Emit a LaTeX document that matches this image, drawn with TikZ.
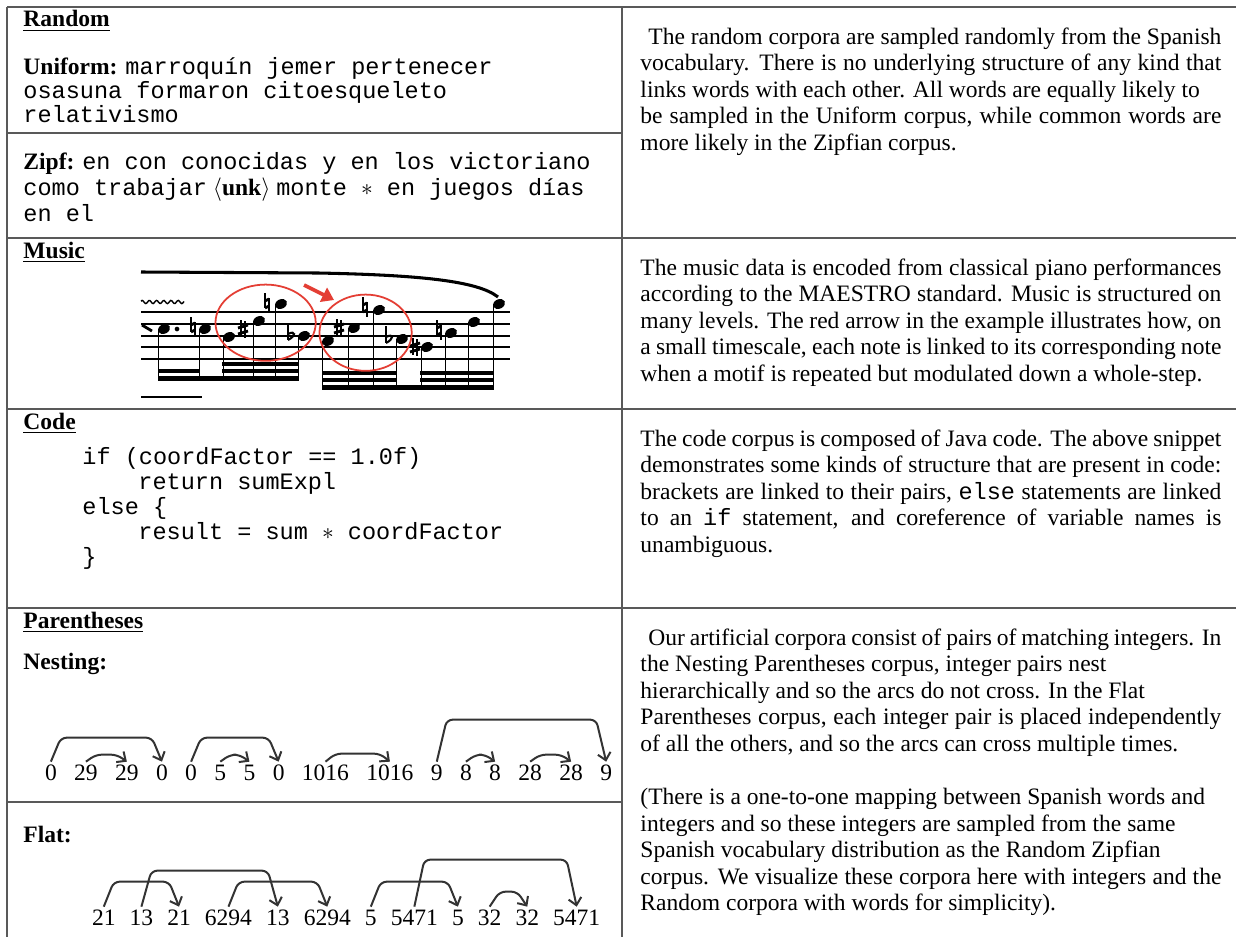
\documentclass[tikz,border=0pt]{standalone}
\usepackage{fontspec}
\setmainfont{Liberation Serif}
\setmonofont{Liberation Mono}
\usetikzlibrary{positioning, arrows.meta, calc}

\definecolor{musred}{RGB}{228,62,52}
\newlength{\colw}\setlength{\colw}{246.9pt}
\newcommand{\justline}[1]{\makebox[\colw][s]{#1}}
% dependency arc: start node, end node, height in px
\newcommand{\deparc}[3]{\draw[deparc] ([yshift=1pt]#1.north) -- ++(10,-#3)
  -- ($([yshift=1pt]#2.north)+(-10,-#3)$) -- ([yshift=1pt]#2.north);}
% accidentals for the music snippet
\newcommand{\drawsharp}[2]{%
  \draw[acc] (#1-2,#2-9) -- (#1-2,#2+8) (#1+2,#2-8) -- (#1+2,#2+9);
  \draw[line width=1.2pt] (#1-5,#2-1) -- (#1+5,#2-4) (#1-5,#2+5) -- (#1+5,#2+2);}
\newcommand{\drawnatural}[2]{%
  \draw[acc] (#1-2,#2-10) -- (#1-2,#2+5) (#1+2,#2-5) -- (#1+2,#2+10);
  \draw[line width=1.2pt] (#1-2,#2-2) -- (#1+2,#2-4) (#1-2,#2+5) -- (#1+2,#2+3);}
\newcommand{\drawflat}[2]{%
  \draw[acc] (#1-3,#2-13) -- (#1-3,#2+4);
  \draw[line width=0.9pt] (#1-3,#2+4) .. controls (#1+5,#2) and (#1+5,#2-6) .. (#1-3,#2-2);}

\begin{document}
\begin{tikzpicture}[x=0.425pt, y=-0.425pt, node distance=7.4pt,
    tabrule/.style={draw=black!65, line width=0.8pt},
    head/.style={anchor=base west, inner sep=0pt},
    cell/.style={anchor=base west, inner sep=0pt},
    desc/.style={anchor=base west, inner sep=0pt},
    num/.style={inner sep=0pt, outer sep=0pt, text height=6.8pt, text depth=0pt},
    deparc/.style={draw=black!80, line width=0.85pt, rounded corners=2.5pt,
                   -{Straight Barb[length=3pt,width=5.5pt]}},
    staffline/.style={line width=0.6pt},
    stem/.style={line width=0.7pt},
    acc/.style={line width=0.6pt},
    circ/.style={draw=musred, line width=0.75pt}
]
\useasboundingbox (0,0) rectangle (1236,937);
\fill[white] (0,0) rectangle (1236,937);

% ---- table rules ----
\draw[tabrule] (7,7) -- (1236,7);
\draw[tabrule] (7,7) -- (7,937);
\draw[tabrule] (622,7) -- (622,937);
\foreach \y in {238,409,608} \draw[tabrule] (7,\y) -- (1236,\y);
\foreach \y in {133,802} \draw[tabrule] (7,\y) -- (622,\y);

% ---- Row 1: Random ----
\node[head] (hrnd) at (23,27) {\underline{\textbf{Random}}};
\node[cell] (uni1) at (23,74)  {\textbf{Uniform:} \texttt{marroquín jemer pertenecer}};
\node[cell] (uni2) at (23,98)  {\texttt{osasuna formaron citoesqueleto}};
\node[cell] (uni3) at (23,122) {\texttt{relativismo}};
\node[cell] (zpf1) at (23,169) {\textbf{Zipf:} \texttt{en con conocidas y en los victoriano}};
\node[cell] (zpf2) at (23,195) {\texttt{como trabajar} $\langle$\textbf{unk}$\rangle$ \texttt{monte $\ast$ en juegos días}};
\node[cell] (zpf3) at (23,221) {\texttt{en el}};

\node[desc] (rd1) at (640,44)    {\justline{\hspace*{3.4pt}The random corpora are sampled randomly from the Spanish}};
\node[desc] (rd2) at (640,70.6)  {\justline{vocabulary. There is no underlying structure of any kind that}};
\node[desc] (rd3) at (640,97.2)  {links words with each other. All words are equally likely to};
\node[desc] (rd4) at (640,123.8) {\justline{be sampled in the Uniform corpus, while common words are}};
\node[desc] (rd5) at (640,150.4) {more likely in the Zipfian corpus.};

% ---- Row 2: Music ----
\node[head] (hmus) at (23,258) {\underline{\textbf{Music}}};
% score snippet
\draw[line width=1.3pt] (141,272) -- (318,273) .. controls (420,275) and (478,281) .. (498,297);
\draw[line width=0.6pt] plot[domain=141:184, samples=40, smooth] (\x,{302+1.6*sin(\x*50)});
\foreach \y in {312,324,336,347,359} \draw[staffline] (141,\y) -- (510,\y);
\draw[line width=1.2pt] (142,325) -- (152,331);
\foreach \x/\y in {164/329,205/329,229/337,259/321,281/304,304/336} {
  \fill[rotate around={25:(\x,\y)}] (\x,\y) ellipse (2.7pt and 2pt);
  \draw[stem] (\x-5.5,\y) -- (\x-5.5,381);
}
\foreach \x/\y in {328/341,354/328,379/310,402/339,427/347,451/333,474/322,499/304} {
  \fill[rotate around={25:(\x,\y)}] (\x,\y) ellipse (2.7pt and 2pt);
  \draw[stem] (\x-5.5,\y) -- (\x-5.5,390);
}
\fill (177,329) circle (1pt);
\fill (158,376) rectangle (299,381);
\fill (158,369) rectangle (200,373);
\fill (222,369) rectangle (299,373);
\fill (222,362) rectangle (299,366);
\fill (322,385) rectangle (494,390);
\fill (322,378) rectangle (396,382);
\fill (420,378) rectangle (494,382);
\fill (322,371) rectangle (396,375);
\fill (420,371) rectangle (494,375);
\draw[line width=0.9pt] (141,397) -- (202,397);
\drawnatural{193}{327}
\drawsharp{243}{329}
\drawnatural{267}{303}
\drawflat{291}{336}
\drawsharp{339}{328}
\drawnatural{365}{307}
\drawflat{389}{339}
\drawsharp{415}{347}
\drawnatural{439}{330}
% red marks
\draw[circ] (265.6,322.7) ellipse (21.3pt and 16.2pt);
\draw[circ] (365.6,332.7) ellipse (19.6pt and 16.2pt);
\draw[musred, line width=1.6pt, -{Triangle[length=5pt,width=6.5pt]}] (304,285) -- (334,300);

\node[desc] (md1) at (640,275)   {\justline{The music data is encoded from classical piano performances}};
\node[desc] (md2) at (640,301.6) {\justline{according to the MAESTRO standard. Music is structured on}};
\node[desc] (md3) at (640,328.2) {\justline{many levels. The red arrow in the example illustrates how, on}};
\node[desc] (md4) at (640,354.8) {\justline{a small timescale, each note is linked to its corresponding note}};
\node[desc] (md5) at (640,381.4) {when a motif is repeated but modulated down a whole-step.};

% ---- Row 3: Code ----
\node[head] (hcod) at (23,429) {\underline{\textbf{Code}}};
\node[cell] (cl1) at (82,464)  {\texttt{if (coordFactor == 1.0f)}};
\node[cell] (cl2) at (138,489) {\texttt{return sumExpl}};
\node[cell] (cl3) at (82,514)  {\texttt{else \{}};
\node[cell] (cl4) at (138,539) {\texttt{result = sum $\ast$ coordFactor}};
\node[cell] (cl5) at (82,564)  {\texttt{\}}};

\node[desc] (cd1) at (640,446)   {\justline{The code corpus is composed of Java code. The above snippet}};
\node[desc] (cd2) at (640,472.6) {\justline{demonstrates some kinds of structure that are present in code:}};
\node[desc] (cd3) at (640,499.2) {\justline{brackets are linked to their pairs, \texttt{else} statements are linked}};
\node[desc] (cd4) at (640,525.8) {\justline{to an \texttt{if} statement, and coreference of variable names is}};
\node[desc] (cd5) at (640,552.4) {unambiguous.};

% ---- Row 4: Parentheses ----
\node[head] (hpar) at (23,628) {\underline{\textbf{Parentheses}}};
\node[cell] (hnest) at (23,669) {\textbf{Nesting:}};
\node[cell] (hflat) at (23,842) {\textbf{Flat:}};

% nesting sequence
\node[num, anchor=base west] (a1) at (45,780) {0};
\node[num, right=of a1]  (a2)  {29};
\node[num, right=of a2]  (a3)  {29};
\node[num, right=of a3]  (a4)  {0};
\node[num, right=of a4]  (a5)  {0};
\node[num, right=of a5]  (a6)  {5};
\node[num, right=of a6]  (a7)  {5};
\node[num, right=of a7]  (a8)  {0};
\node[num, right=of a8]  (a9)  {1016};
\node[num, right=of a9]  (a10) {1016};
\node[num, right=of a10] (a11) {9};
\node[num, right=of a11] (a12) {8};
\node[num, right=of a12] (a13) {8};
\node[num, right=of a13] (a14) {28};
\node[num, right=of a14] (a15) {28};
\node[num, right=of a15] (a16) {9};
\deparc{a1}{a4}{24}
\deparc{a2}{a3}{7}
\deparc{a5}{a8}{24}
\deparc{a6}{a7}{7}
\deparc{a9}{a10}{8}
\deparc{a11}{a16}{42}
\deparc{a12}{a13}{7}
\deparc{a14}{a15}{7}

% flat sequence
\node[num, anchor=base west] (b1) at (92,925) {21};
\node[num, right=6pt of b1]  (b2)  {13};
\node[num, right=6pt of b2]  (b3)  {21};
\node[num, right=6pt of b3]  (b4)  {6294};
\node[num, right=6pt of b4]  (b5)  {13};
\node[num, right=6pt of b5]  (b6)  {6294};
\node[num, right=6pt of b6]  (b7)  {5};
\node[num, right=6pt of b7]  (b8)  {5471};
\node[num, right=6pt of b8]  (b9)  {5};
\node[num, right=6pt of b9]  (b10) {32};
\node[num, right=6pt of b10] (b11) {32};
\node[num, right=6pt of b11] (b12) {5471};
\deparc{b1}{b3}{25}
\deparc{b2}{b5}{36}
\deparc{b4}{b6}{25}
\deparc{b7}{b9}{25}
\deparc{b8}{b12}{47}
\deparc{b10}{b11}{15}

\node[desc] (pd1)  at (640,645)   {\justline{\hspace*{3.4pt}Our artificial corpora consist of pairs of matching integers. In}};
\node[desc] (pd2)  at (640,671.6) {the Nesting Parentheses corpus, integer pairs nest};
\node[desc] (pd3)  at (640,698.2) {hierarchically and so the arcs do not cross. In the Flat};
\node[desc] (pd4)  at (640,724.8) {\justline{Parentheses corpus, each integer pair is placed independently}};
\node[desc] (pd5)  at (640,751.4) {of all the others, and so the arcs can cross multiple times.};
\node[desc] (pd6)  at (640,804.5) {(There is a one-to-one mapping between Spanish words and};
\node[desc] (pd7)  at (640,831.1) {integers and so these integers are sampled from the same};
\node[desc] (pd8)  at (640,857.7) {Spanish vocabulary distribution as the Random Zipfian};
\node[desc] (pd9)  at (640,884.3) {\justline{corpus. We visualize these corpora here with integers and the}};
\node[desc] (pd10) at (640,910.9) {Random corpora with words for simplicity).};

\end{tikzpicture}
\end{document}
